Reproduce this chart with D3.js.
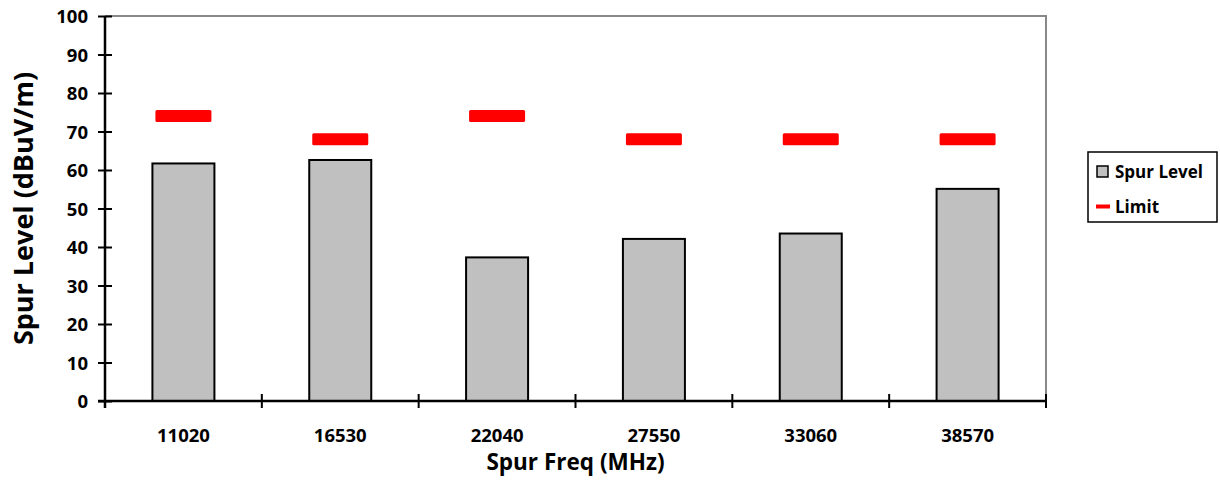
<!DOCTYPE html>
<html><head><meta charset="utf-8">
<script src="https://cdn.jsdelivr.net/npm/d3@7"></script>
<style>
body{margin:0;background:#fff;}
svg text{font-family:"Open Sans",Lato,sans-serif;font-weight:bold;fill:#000;}
</style></head>
<body><svg id="c" width="1220" height="483"></svg>
<script>
const categories = ["11020","16530","22040","27550","33060","38570"];
const spurLevel = [61.7, 62.6, 37.3, 42.1, 43.5, 55.1];
const limit = [74, 68, 74, 68, 68, 68];
const yTicks = [0,10,20,30,40,50,60,70,80,90,100];

const svg = d3.select("#c");
const L=105, R=1046, T=16, B=401;
const xo = d3.scaleBand().domain(categories).range([L,R]);
const y = d3.scaleLinear().domain([0,100]).range([B,T]);

// top/right grey border
svg.append("path").attr("d",`M${L},${T}H${R}V${B}`).attr("fill","none").attr("stroke","#888").attr("stroke-width",2);

// bars
svg.selectAll("rect.bar").data(categories).enter().append("rect")
  .attr("x",d=>xo(d)+xo.bandwidth()/2-31).attr("width",62)
  .attr("y",(d,i)=>y(spurLevel[i])).attr("height",(d,i)=>B-y(spurLevel[i]))
  .attr("fill","#c0c0c0").attr("stroke","#000").attr("stroke-width",2);

// limit dashes
svg.selectAll("rect.lim").data(categories).enter().append("rect")
  .attr("x",d=>xo(d)+xo.bandwidth()/2-28).attr("width",56)
  .attr("y",(d,i)=>y(limit[i])-6).attr("height",12).attr("rx",1.5)
  .attr("fill","#ff0000");

// y axis
const ya = svg.append("g").attr("transform",`translate(${L},0)`)
  .call(d3.axisLeft(y).tickValues(yTicks).tickSize(7).tickPadding(10));
ya.select(".domain").attr("stroke","#000").attr("stroke-width",2.5).attr("d",`M0,${T}V${B+7}`);
ya.selectAll(".tick line").attr("stroke","#000").attr("stroke-width",2).attr("x1",7).attr("x2",-7);
ya.selectAll(".tick text").style("font-size","18.5px").attr("dy","0.36em");

// x axis
const xa = svg.append("g").attr("transform",`translate(0,${B})`)
  .call(d3.axisBottom(xo).tickSize(0).tickPadding(0));
xa.select(".domain").remove();
xa.selectAll(".tick text").attr("dy",null).attr("y",40.5).style("font-size","18.5px");
svg.append("line").attr("x1",L-7).attr("x2",R).attr("y1",B).attr("y2",B).attr("stroke","#000").attr("stroke-width",2.5);
const xb = xo.domain().map(d=>xo(d)).concat([R]);
svg.selectAll("line.xt").data(xb).enter().append("line")
  .attr("x1",d=>d).attr("x2",d=>d).attr("y1",B-7).attr("y2",B+7)
  .attr("stroke","#000").attr("stroke-width",2);

// axis titles
svg.append("text").attr("x",(L+R)/2).attr("y",469.5).attr("text-anchor","middle").style("font-size","22.5px").text("Spur Freq (MHz)");
svg.append("text").attr("transform",`translate(33,${(T+B)/2}) rotate(-90)`).attr("text-anchor","middle").style("font-size","27px").text("Spur Level (dBuV/m)");

// legend
const lg = svg.append("g");
lg.append("rect").attr("x",1088).attr("y",152).attr("width",129).attr("height",70).attr("fill","#fff").attr("stroke","#000").attr("stroke-width",1.5);
lg.append("rect").attr("x",1097).attr("y",166).attr("width",11).attr("height",11).attr("fill","#c0c0c0").attr("stroke","#000").attr("stroke-width",1.5);
lg.append("rect").attr("x",1096).attr("y",204.5).attr("width",14).attr("height",4).attr("fill","#ff0000");
lg.append("text").attr("x",1115).attr("y",177.5).style("font-size","17px").text("Spur Level");
lg.append("text").attr("x",1115).attr("y",213).style("font-size","17px").text("Limit");
</script></body></html>
